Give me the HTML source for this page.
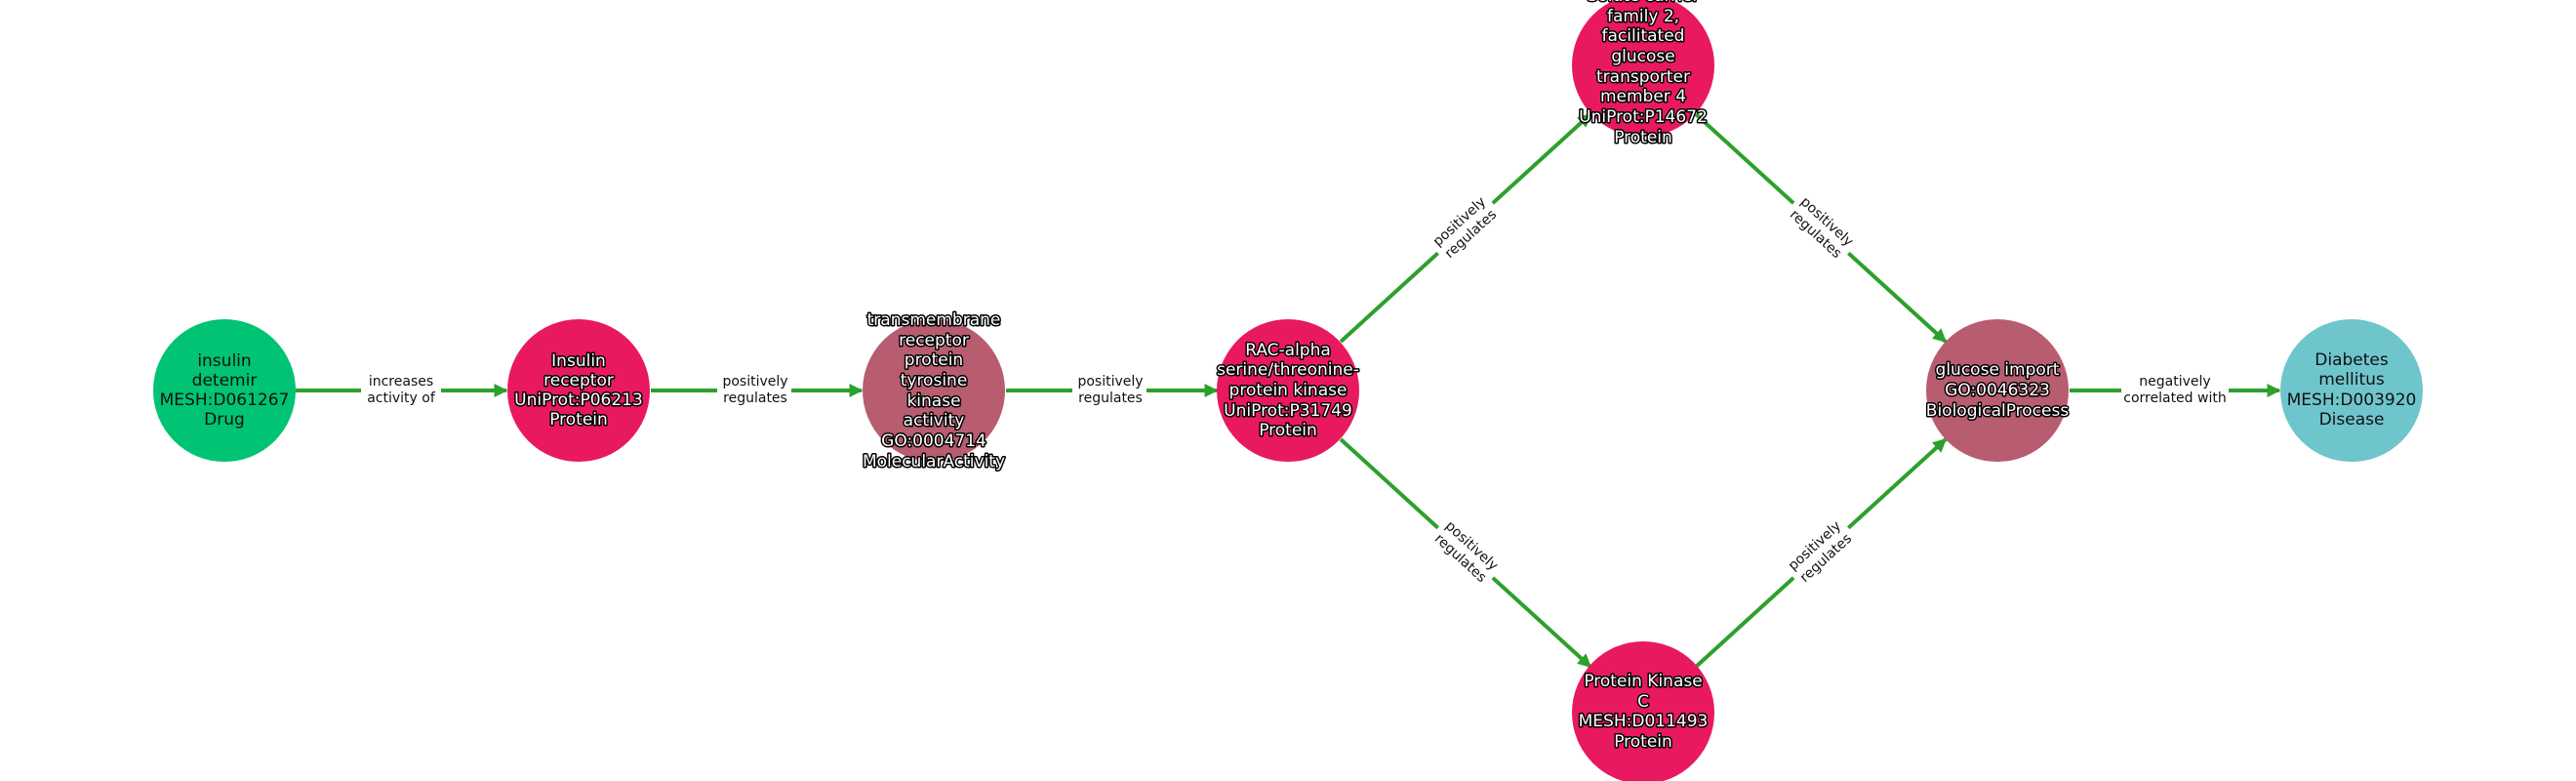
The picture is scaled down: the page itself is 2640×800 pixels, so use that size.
<!DOCTYPE html>
<html><head><meta charset="utf-8"><style>
html,body{margin:0;padding:0;background:#fff;}
svg{display:block;}
.n{font-family:"DejaVu Sans","Liberation Sans",sans-serif;font-size:17px;text-anchor:middle;dominant-baseline:central;}
.w{fill:#fff;stroke:#000;stroke-width:3px;paint-order:stroke;stroke-linejoin:round;}
.b{fill:#111;}
.e{font-family:"DejaVu Sans","Liberation Sans",sans-serif;font-size:14px;text-anchor:middle;dominant-baseline:central;fill:#111;}
</style></head><body>
<svg width="2640" height="800" viewBox="0 0 2640 800" xmlns="http://www.w3.org/2000/svg">
<defs><marker id="a" viewBox="0 0 10 10" refX="9" refY="5" markerWidth="3.5" markerHeight="3.5" orient="auto"><path d="M0,0 L10,5 L0,10 z" fill="#2ca02c"/></marker></defs>
<g stroke="#2ca02c" stroke-width="4" marker-end="url(#a)">
<line x1="303" y1="400" x2="519" y2="400"/>
<line x1="667" y1="400" x2="883" y2="400"/>
<line x1="1031" y1="400" x2="1247" y2="400"/>
<line x1="1374" y1="350" x2="1630" y2="117"/>
<line x1="1738" y1="117" x2="1994" y2="350"/>
<line x1="1374" y1="450" x2="1630" y2="683"/>
<line x1="1738" y1="683" x2="1994" y2="450"/>
<line x1="2121" y1="400" x2="2336" y2="400"/>
</g>
<g>
<circle cx="230" cy="400" r="73" fill="#00c373"/>
<circle cx="593" cy="400" r="73" fill="#e8195f"/>
<circle cx="957" cy="400" r="73" fill="#b85c70"/>
<circle cx="1320" cy="400" r="73" fill="#e8195f"/>
<circle cx="1684" cy="67" r="73" fill="#e8195f"/>
<circle cx="1684" cy="730" r="73" fill="#e8195f"/>
<circle cx="2047" cy="400" r="73" fill="#b85c70"/>
<circle cx="2410" cy="400" r="73" fill="#6fc5cc"/>
</g>
<g fill="#fff">
<rect x="370" y="381" width="82" height="38"/>
<rect x="735" y="381" width="76" height="38"/>
<rect x="1099" y="381" width="76" height="38"/>
<rect x="2174" y="381" width="110" height="38"/>
</g>
<text class="e"><tspan x="411" y="391">increases</tspan><tspan x="411" y="408">activity of</tspan></text>
<text class="e"><tspan x="774" y="391">positively</tspan><tspan x="774" y="408">regulates</tspan></text>
<text class="e"><tspan x="1138" y="391">positively</tspan><tspan x="1138" y="408">regulates</tspan></text>
<text class="e"><tspan x="2229" y="391">negatively</tspan><tspan x="2229" y="408">correlated with</tspan></text>
<g transform="translate(1502,234) rotate(-42.4)"><rect x="-38" y="-19" width="76" height="38" fill="#fff"/><text class="e"><tspan x="0" y="-9">positively</tspan><tspan x="0" y="8">regulates</tspan></text></g>
<g transform="translate(1866,234) rotate(42.4)"><rect x="-38" y="-19" width="76" height="38" fill="#fff"/><text class="e"><tspan x="0" y="-9">positively</tspan><tspan x="0" y="8">regulates</tspan></text></g>
<g transform="translate(1502,566) rotate(42.4)"><rect x="-38" y="-19" width="76" height="38" fill="#fff"/><text class="e"><tspan x="0" y="-9">positively</tspan><tspan x="0" y="8">regulates</tspan></text></g>
<g transform="translate(1866,566) rotate(-42.4)"><rect x="-38" y="-19" width="76" height="38" fill="#fff"/><text class="e"><tspan x="0" y="-9">positively</tspan><tspan x="0" y="8">regulates</tspan></text></g>
<text class="n b"><tspan x="230" y="370">insulin</tspan><tspan x="230" y="390">detemir</tspan><tspan x="230" y="410">MESH:D061267</tspan><tspan x="230" y="430">Drug</tspan></text>
<text class="n w"><tspan x="593" y="370">Insulin</tspan><tspan x="593" y="390">receptor</tspan><tspan x="593" y="410">UniProt:P06213</tspan><tspan x="593" y="430">Protein</tspan></text>
<text class="n w"><tspan x="957" y="328">transmembrane</tspan><tspan x="957" y="349">receptor</tspan><tspan x="957" y="369">protein</tspan><tspan x="957" y="390">tyrosine</tspan><tspan x="957" y="411">kinase</tspan><tspan x="957" y="431">activity</tspan><tspan x="957" y="452">GO:0004714</tspan><tspan x="957" y="473">MolecularActivity</tspan></text>
<text class="n w"><tspan x="1320" y="359">RAC-alpha</tspan><tspan x="1320" y="379">serine/threonine-</tspan><tspan x="1320" y="400">protein kinase</tspan><tspan x="1320" y="421">UniProt:P31749</tspan><tspan x="1320" y="441">Protein</tspan></text>
<text class="n w"><tspan x="1684" y="-4">Solute carrier</tspan><tspan x="1684" y="17">family 2,</tspan><tspan x="1684" y="37">facilitated</tspan><tspan x="1684" y="58">glucose</tspan><tspan x="1684" y="79">transporter</tspan><tspan x="1684" y="99">member 4</tspan><tspan x="1684" y="120">UniProt:P14672</tspan><tspan x="1684" y="141">Protein</tspan></text>
<text class="n w"><tspan x="1684" y="698">Protein Kinase</tspan><tspan x="1684" y="719">C</tspan><tspan x="1684" y="739">MESH:D011493</tspan><tspan x="1684" y="760">Protein</tspan></text>
<text class="n w"><tspan x="2047" y="379">glucose import</tspan><tspan x="2047" y="400">GO:0046323</tspan><tspan x="2047" y="421">BiologicalProcess</tspan></text>
<text class="n b"><tspan x="2410" y="369">Diabetes</tspan><tspan x="2410" y="389">mellitus</tspan><tspan x="2410" y="410">MESH:D003920</tspan><tspan x="2410" y="430">Disease</tspan></text>
</svg>
</body></html>
